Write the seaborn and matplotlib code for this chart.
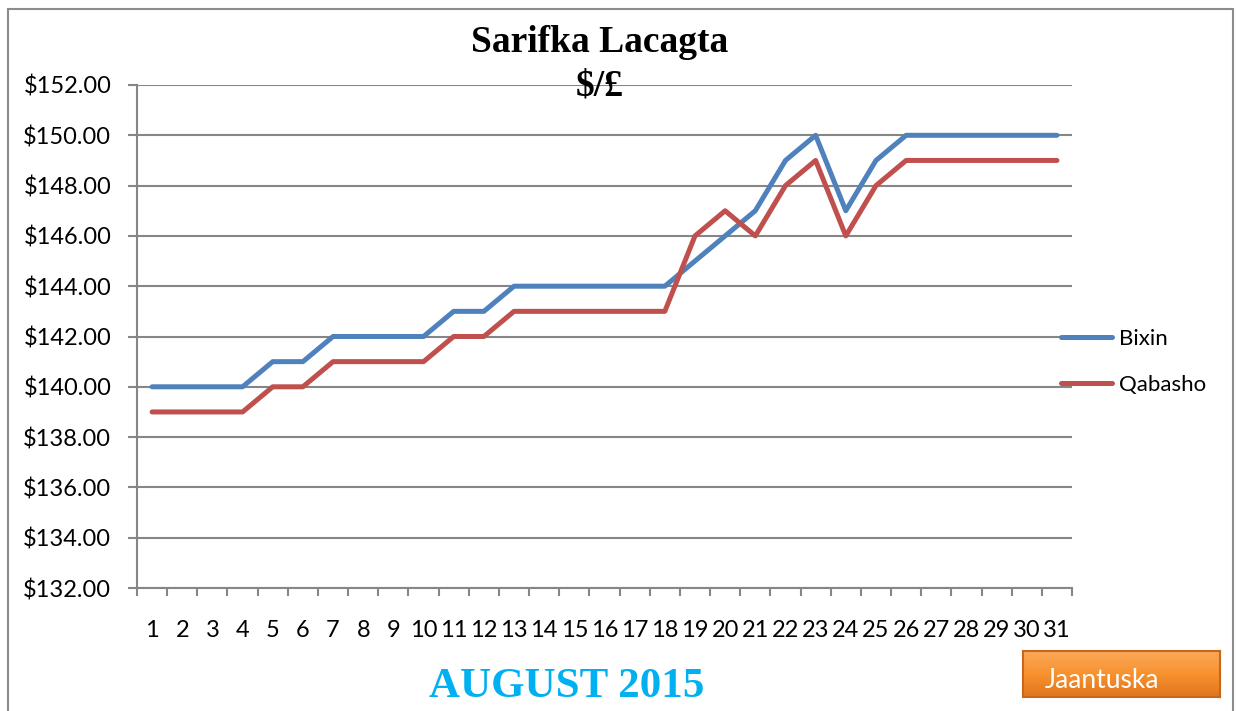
import numpy as np
import pandas as pd
import matplotlib.pyplot as plt
import seaborn as sns
from matplotlib.patches import Rectangle
from matplotlib.colors import LinearSegmentedColormap
from matplotlib.ticker import FixedLocator, FuncFormatter

# days of August 2015
days = list(range(1, 32))
bixin = [140, 140, 140, 140, 141, 141, 142, 142, 142, 142, 143, 143, 144, 144, 144, 144,
         144, 144, 145, 146, 147, 149, 150, 147, 149, 150, 150, 150, 150, 150, 150]
qabasho = [139, 139, 139, 139, 140, 140, 141, 141, 141, 141, 142, 142, 143, 143, 143, 143,
           143, 143, 146, 147, 146, 148, 149, 146, 148, 149, 149, 149, 149, 149, 149]
series_names = ['Bixin', 'Qabasho']
colors = ['#4F81BD', '#C0504D']

df = pd.DataFrame({'day': days * 2,
                   'value': bixin + qabasho,
                   'series': ['Bixin'] * 31 + ['Qabasho'] * 31})
df['pos'] = df['day'] - 1

sns.set_style('white')
plt.rcParams['font.family'] = ['Lato', 'DejaVu Sans']
plt.rcParams['text.color'] = 'black'
plt.rcParams['xtick.color'] = 'black'
plt.rcParams['ytick.color'] = 'black'

fig = plt.figure(figsize=(12.41, 7.11), dpi=100)
ax = fig.add_axes([137 / 1241, 1 - 588 / 711, 935 / 1241, 503 / 711])

sns.lineplot(data=df, x='pos', y='value', hue='series', palette=colors,
             linewidth=3.6, ax=ax, legend=False, solid_capstyle='round')

ax.set_xlim(-0.5, 30.5)
ax.set_ylim(132, 152)
ax.set_yticks(range(132, 153, 2))
ax.yaxis.set_major_formatter(FuncFormatter(lambda v, p: f'${v:.2f}'))
ax.grid(axis='y', color='#868686', linewidth=1.5)
ax.set_axisbelow(True)

# category labels in the middle, tick marks at boundaries
ax.set_xticks(range(31))
ax.set_xticklabels([str(d) for d in days])
ax.xaxis.set_minor_locator(FixedLocator([i - 0.5 for i in range(32)]))
ax.tick_params(axis='x', which='major', length=0, pad=23, labelsize=17, labelcolor='black')
ax.tick_params(axis='x', which='minor', length=6, width=1.5, color='#868686', direction='out', bottom=True)
ax.tick_params(axis='y', length=6.5, width=1.5, color='#868686', direction='out', left=True, pad=12,
               labelsize=17, labelcolor='black')
ax.set_xlabel('')
ax.set_ylabel('')

for s in ['top', 'right']:
    ax.spines[s].set_visible(False)
for s in ['left', 'bottom']:
    ax.spines[s].set_color('#868686')
    ax.spines[s].set_linewidth(1.5)

# legend on the right
handles = [plt.Line2D([], [], color=c, linewidth=3.6, solid_capstyle='round') for c in colors]
fig.legend(handles, series_names, loc='center left', bbox_to_anchor=(1041 / 1241, 1 - 362 / 711),
           frameon=False, fontsize=16, handlelength=2.3, handletextpad=0.3, labelspacing=1.15,
           labelcolor='black')

# titles
fig.text(600 / 1241, 1 - 43 / 711, 'Sarifka Lacagta', ha='center', va='center',
         family='Liberation Serif', weight='bold', fontsize=27, color='black')
fig.text(600 / 1241, 1 - 86 / 711, '$/£', ha='center', va='center',
         family='Liberation Serif', weight='bold', fontsize=27, color='black')
fig.text(567 / 1241, 1 - 687 / 711, 'AUGUST 2015', ha='center', va='center',
         family='Liberation Serif', weight='bold', fontsize=31, color='#00B0F0')

# chart frame
fig.patches.append(Rectangle((8 / 1241, -0.1), 1225 / 1241, 1.1 - 9 / 711, transform=fig.transFigure,
                             fill=False, edgecolor='#8C8C8C', linewidth=1.5))

# orange button with a vertical gradient
bx0, bx1 = 1023 / 1241, 1220 / 1241
by0, by1 = 1 - 697 / 711, 1 - 651 / 711
bax = fig.add_axes([bx0, by0, bx1 - bx0, by1 - by0])
grad = LinearSegmentedColormap.from_list('btn', ['#E0761E', '#F7922F', '#FBA85A'])
bax.imshow(np.linspace(0, 1, 50).reshape(-1, 1), cmap=grad, aspect='auto', origin='lower',
           extent=[0, 1, 0, 1])
bax.set_xticks([])
bax.set_yticks([])
for s in bax.spines.values():
    s.set_color('#C9661A')
    s.set_linewidth(1.5)
bax.text(0.4, 0.36, 'Jaantuska', ha='center', va='center', transform=bax.transAxes,
         fontsize=19, color='white')

fig.savefig('out.png', dpi=100)
